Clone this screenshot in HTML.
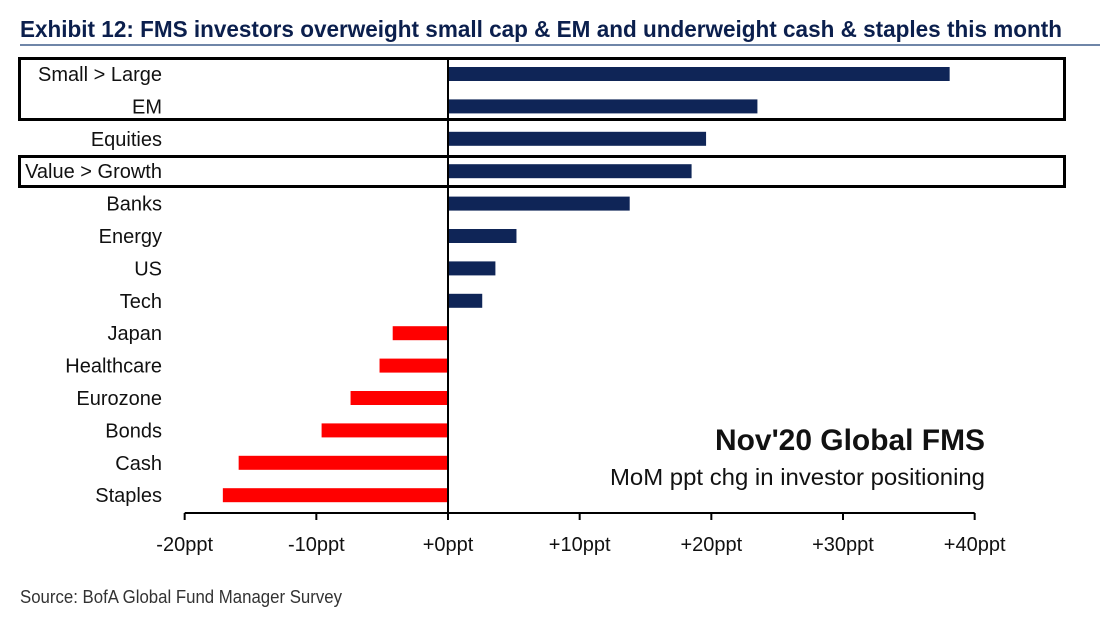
<!DOCTYPE html>
<html><head><meta charset="utf-8"><style>
html,body{margin:0;padding:0;background:#fff;}
svg{display:block;font-family:"Liberation Sans",Arial,sans-serif;}
</style></head><body>
<svg id="chart" width="1117" height="631" viewBox="0 0 1117 631">
<text x="20" y="37" font-size="23" font-weight="bold" fill="#0b1f4d" textLength="1042" lengthAdjust="spacingAndGlyphs">Exhibit 12: FMS investors overweight small cap &amp; EM and underweight cash &amp; staples this month</text>
<line x1="20" y1="45" x2="1100" y2="45" stroke="#6f86a8" stroke-width="2"/>
<g id="bars"></g>
<rect x="19.5" y="58.5" width="1045" height="61" fill="none" stroke="#000" stroke-width="3"/>
<rect x="19.5" y="156.5" width="1045" height="30" fill="none" stroke="#000" stroke-width="3"/>
<text x="985" y="450" text-anchor="end" font-size="30" font-weight="bold" fill="#111" textLength="270" lengthAdjust="spacingAndGlyphs">Nov'20 Global FMS</text>
<text x="985" y="485" text-anchor="end" font-size="23" fill="#111" textLength="375" lengthAdjust="spacingAndGlyphs">MoM ppt chg in investor positioning</text>
<text x="20" y="603" font-size="18" fill="#333" textLength="322" lengthAdjust="spacingAndGlyphs">Source: BofA Global Fund Manager Survey</text>
</svg>
<script>
const categories=["Small > Large","EM","Equities","Value > Growth","Banks","Energy","US","Tech","Japan","Healthcare","Eurozone","Bonds","Cash","Staples"];
const values=[38.1,23.5,19.6,18.5,13.8,5.2,3.6,2.6,-4.2,-5.2,-7.4,-9.6,-15.9,-17.1];
const tickValues=[-20,-10,0,10,20,30,40];
const tickLabels=["-20ppt","-10ppt","+0ppt","+10ppt","+20ppt","+30ppt","+40ppt"];
const ns="http://www.w3.org/2000/svg";
const g=document.getElementById('bars');
const x=v=>448+(v)*(975-185)/60;
const y=i=>74+i*32.4;
function mk(t,a){const e=document.createElementNS(ns,t);for(const k in a)e.setAttribute(k,a[k]);g.appendChild(e);return e;}
categories.forEach((c,i)=>{
 const v=values[i];
 const r=mk('rect',{x:Math.min(x(0),x(v)),y:y(i)-7,width:Math.abs(x(v)-x(0)),height:14,fill:v>=0?'#0f2557':'#ff0000'});
 
 
 const t=mk('text',{x:162,y:y(i)+7,'text-anchor':'end','font-size':20,fill:'#111'});
 t.textContent=c;
 
 
});
const zl=mk('line',{x1:x(0),y1:58,x2:x(0),y2:520,stroke:'#000','stroke-width':2});


const ax=mk('line',{x1:x(-20),y1:513,x2:x(40),y2:513,stroke:'#000','stroke-width':2});


tickValues.forEach((v,i)=>{
 const tk=mk('line',{x1:x(v),y1:513,x2:x(v),y2:520,stroke:'#000','stroke-width':2});
 
 
 const t=mk('text',{x:x(v),y:551,'text-anchor':'middle','font-size':20,fill:'#111'});
 t.textContent=tickLabels[i];
 
 
});
</script>
</body></html>
